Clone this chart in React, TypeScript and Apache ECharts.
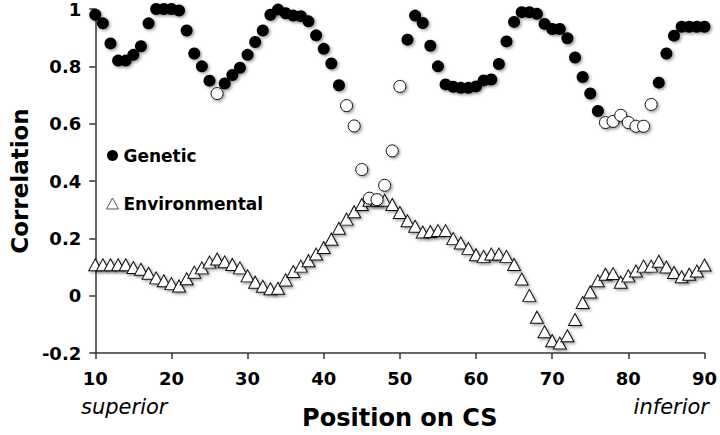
import React, { useEffect, useRef } from "react";
import * as echarts from "echarts";

const positions = [
  10, 11, 12, 13, 14, 15, 16, 17, 18, 19, 20, 21, 22, 23, 24, 25, 26, 27, 28, 29,
  30, 31, 32, 33, 34, 35, 36, 37, 38, 39, 40, 41, 42, 43, 44, 45, 46, 47, 48, 49,
  50, 51, 52, 53, 54, 55, 56, 57, 58, 59, 60, 61, 62, 63, 64, 65, 66, 67, 68, 69,
  70, 71, 72, 73, 74, 75, 76, 77, 78, 79, 80, 81, 82, 83, 84, 85, 86, 87, 88, 89, 90,
];

const genetic = [
  0.98, 0.95, 0.88, 0.82, 0.82, 0.84, 0.87, 0.95, 1.0, 1.0, 1.0, 0.995, 0.925, 0.845, 0.8, 0.75, 0.705, 0.74, 0.77, 0.795,
  0.84, 0.885, 0.925, 0.98, 0.998, 0.985, 0.977, 0.975, 0.957, 0.908, 0.861, 0.81, 0.734, 0.663, 0.592, 0.44, 0.34, 0.335, 0.385, 0.505,
  0.73, 0.893, 0.977, 0.951, 0.872, 0.8, 0.737, 0.729, 0.725, 0.725, 0.73, 0.751, 0.754, 0.808, 0.887, 0.955, 0.989, 0.989, 0.983, 0.948,
  0.93, 0.93, 0.898, 0.831, 0.763, 0.705, 0.644, 0.604, 0.608, 0.629, 0.604, 0.591, 0.591, 0.667, 0.743, 0.845, 0.907, 0.938, 0.938, 0.938, 0.938,
];

// positions where the genetic correlation marker is drawn hollow
const geneticOpen = [26, 43, 44, 45, 46, 47, 48, 49, 50, 77, 78, 79, 80, 81, 82, 83];

const environmental = [
  0.108, 0.108, 0.108, 0.108, 0.108, 0.098, 0.092, 0.078, 0.062, 0.052, 0.042, 0.034, 0.059, 0.082, 0.097, 0.117, 0.128, 0.118, 0.109, 0.097,
  0.069, 0.047, 0.033, 0.024, 0.026, 0.055, 0.084, 0.103, 0.122, 0.145, 0.168, 0.197, 0.235, 0.267, 0.293, 0.318, 0.333, 0.333, 0.333, 0.318,
  0.29, 0.261, 0.242, 0.222, 0.224, 0.227, 0.227, 0.199, 0.184, 0.165, 0.143, 0.137, 0.145, 0.145, 0.137, 0.109, 0.058, 0.001, -0.075, -0.126,
  -0.157, -0.165, -0.14, -0.083, -0.024, 0.013, 0.052, 0.075, 0.077, 0.047, 0.069, 0.086, 0.103, 0.103, 0.12, 0.1, 0.081, 0.066, 0.075, 0.086, 0.107,
];

const xTicks = { min: 10, max: 90, interval: 10 };
const yTicks = { min: -0.2, max: 1, interval: 0.2 };
const endLabels = ["superior", "inferior"];

const FONT = "'DejaVu Sans', Verdana, sans-serif";

export default function App() {
  const ref = useRef<HTMLDivElement>(null);

  useEffect(() => {
    if (!ref.current) return;
    const chart = echarts.init(ref.current, null, { renderer: "svg" });

    const shadow = {
      shadowBlur: 3,
      shadowOffsetX: 1.5,
      shadowOffsetY: 1.5,
      shadowColor: "rgba(0,0,0,0.4)",
    };
    const noShadow = { shadowBlur: 0, shadowOffsetX: 0, shadowOffsetY: 0 };

    const geneticData = positions.map((p, i) =>
      geneticOpen.includes(p)
        ? {
            value: [p, genetic[i]],
            itemStyle: { color: "#ffffff", borderColor: "#111", borderWidth: 1 },
          }
        : { value: [p, genetic[i]] }
    );
    const envData = positions.map((p, i) => [p, environmental[i]]);

    chart.setOption({
      animation: false,
      backgroundColor: "#ffffff",
      grid: { left: 85, right: 14, top: 7, bottom: 72, containLabel: false },
      legend: {
        orient: "vertical",
        left: 101,
        top: 142,
        itemWidth: 12,
        itemHeight: 11,
        itemGap: 31,
        data: [
          { name: "Genetic", icon: "circle", itemStyle: { color: "#000", opacity: 1, ...noShadow } },
          {
            name: "Environmental",
            icon: "triangle",
            itemStyle: { color: "#fff", borderColor: "#555", borderWidth: 1, opacity: 1, ...noShadow },
          },
        ],
        textStyle: { fontFamily: FONT, fontWeight: "bold", fontSize: 17, color: "#000" },
      },
      xAxis: {
        type: "value",
        min: xTicks.min,
        max: xTicks.max,
        interval: xTicks.interval,
        name: "Position on CS",
        nameLocation: "middle",
        nameGap: 53,
        nameTextStyle: { fontFamily: FONT, fontWeight: "bold", fontSize: 24, color: "#000" },
        axisLine: { onZero: false, lineStyle: { color: "#333", width: 1.5 } },
        axisTick: { show: true, length: 6, lineStyle: { color: "#333", width: 1.5 } },
        axisLabel: { fontFamily: FONT, fontWeight: "bold", fontSize: 18, color: "#000", margin: 16 },
        splitLine: { show: false },
      },
      yAxis: {
        type: "value",
        min: yTicks.min,
        max: yTicks.max,
        interval: yTicks.interval,
        name: "Correlation",
        nameLocation: "middle",
        nameGap: 63,
        nameTextStyle: { fontFamily: FONT, fontWeight: "bold", fontSize: 23, color: "#000" },
        axisLine: { show: true, onZero: false, lineStyle: { color: "#333", width: 1.5 } },
        axisTick: { show: true, length: 6, lineStyle: { color: "#333", width: 1.5 } },
        axisLabel: { fontFamily: FONT, fontWeight: "bold", fontSize: 18, color: "#000", margin: 14 },
        splitLine: { show: false },
      },
      graphic: [
        {
          type: "text",
          left: 81,
          top: 396,
          style: { text: endLabels[0], font: `italic 21px ${FONT}`, fill: "#000" },
        },
        {
          type: "text",
          right: 11,
          top: 396,
          style: { text: endLabels[1], font: `italic 21px ${FONT}`, fill: "#000" },
        },
      ],
      series: [
        {
          name: "Environmental",
          type: "scatter",
          symbol: "triangle",
          symbolSize: [13, 12],
          data: envData,
          itemStyle: { color: "#ffffff", borderColor: "#111", borderWidth: 1, opacity: 1, ...shadow },
          z: 2,
        },
        {
          name: "Genetic",
          type: "scatter",
          symbol: "circle",
          symbolSize: 12,
          data: geneticData,
          itemStyle: { color: "#000000", opacity: 1, ...shadow },
          z: 3,
        },
      ],
    });

    return () => chart.dispose();
  }, []);

  return (
    <div
      ref={ref}
      style={{ position: "fixed", left: 0, top: 0, width: 720, height: 435, background: "#fff" }}
    />
  );
}
